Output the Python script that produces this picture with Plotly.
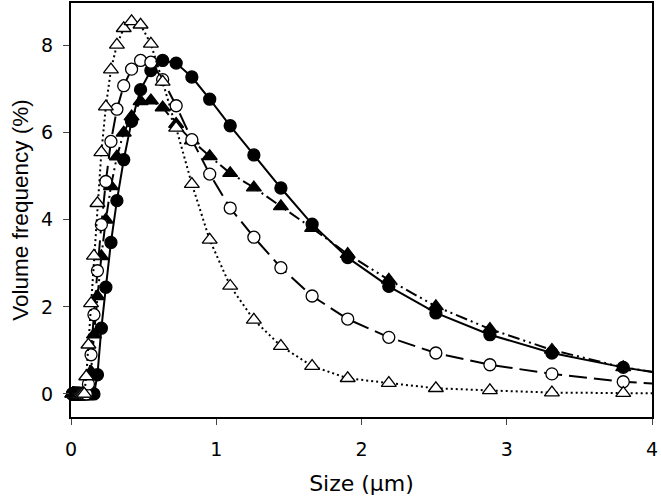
import plotly.graph_objects as go

# particle size grid (µm)
sizes = [0.01, 0.0115, 0.0132, 0.0151, 0.0174, 0.02, 0.0229, 0.0263, 0.0302, 0.0347,
         0.0398, 0.0457, 0.0525, 0.0603, 0.0692, 0.0794, 0.0912, 0.105, 0.120, 0.138,
         0.158, 0.182, 0.209, 0.240, 0.275, 0.316, 0.363, 0.417, 0.479, 0.550,
         0.631, 0.724, 0.832, 0.955, 1.096, 1.259, 1.445, 1.660, 1.905, 2.188,
         2.512, 2.884, 3.311, 3.802, 4.365]

filled_circle = [0]*21 + [0.44, 1.51, 2.45, 3.48, 4.44, 5.38, 6.26, 6.99, 7.43,
                          7.66, 7.60, 7.28, 6.77, 6.16, 5.49, 4.73, 3.90, 3.13, 2.47,
                          1.86, 1.36, 0.94, 0.61, 0.31]
filled_triangle = [0]*18 + [0.05, 0.51, 1.36, 2.24, 3.16, 4.00, 4.77, 5.45, 6.00, 6.37,
                            6.72, 6.74, 6.58, 6.20, 5.82, 5.46, 5.07, 4.74, 4.31, 3.81,
                            3.21, 2.62, 2.01, 1.49, 1.01, 0.61, 0.33]
open_circle = [0]*18 + [0.23, 0.90, 1.82, 2.83, 3.89, 4.88, 5.80, 6.54, 7.08, 7.46,
                        7.66, 7.62, 7.22, 6.62, 5.84, 5.05, 4.27, 3.60, 2.90, 2.25,
                        1.72, 1.30, 0.94, 0.67, 0.46, 0.28, 0.17]
open_triangle = [0]*17 + [0.40, 1.13, 2.08, 3.17, 4.38, 5.55, 6.60, 7.45, 8.02, 8.40,
                          8.56, 8.48, 8.04, 7.17, 6.11, 4.82, 3.54, 2.48, 1.70, 1.10,
                          0.64, 0.36, 0.25, 0.13, 0.08, 0.03, 0.02, 0.0]

x_ticks = [0, 1, 2, 3, 4]
y_ticks = [0, 2, 4, 6, 8]

series = [
    (filled_circle, "circle", "black", "solid"),
    (filled_triangle, "triangle-up", "black", "12px,4px,2px,4px,2px,4px"),
    (open_circle, "circle", "white", "18px,7px"),
    (open_triangle, "triangle-up", "white", "2px,3px"),
]

fig = go.Figure()
for vals, sym, fill, dash in series:
    fig.add_trace(go.Scatter(x=sizes, y=vals, mode="lines",
                             line=dict(color="black", width=2, dash=dash),
                             showlegend=False, hoverinfo="skip"))
    xs = [s for s in sizes if s <= 4]
    ys = [v for s, v in zip(sizes, vals) if s <= 4]
    fig.add_trace(go.Scatter(x=xs, y=ys, mode="markers", cliponaxis=False,
                             marker=dict(symbol=sym, size=12 if sym == "circle" else 13,
                                         color=fill, line=dict(color="black", width=1.3)),
                             showlegend=False))

wide = "DejaVu Sans, Verdana, sans-serif"
narrow = "Liberation Sans, Arial, sans-serif"
fig.update_layout(
    width=661, height=500,
    margin=dict(l=71, r=9, t=3, b=83),
    paper_bgcolor="white", plot_bgcolor="white",
    font=dict(family=wide, color="black", size=19),
)
fig.update_xaxes(range=[0, 4], tickvals=x_ticks, ticks="outside", ticklen=6, tickwidth=1,
                 showline=True, linewidth=2, linecolor="black", mirror=True,
                 showgrid=False, zeroline=False, automargin=False,
                 tickfont=dict(family=wide, size=19), ticklabelstandoff=8,
                 title=dict(text="Size (µm)", font=dict(family=wide, size=22), standoff=17))
fig.update_yaxes(range=[-0.53, 8.98], tickvals=y_ticks, ticks="outside", ticklen=6, tickwidth=1,
                 showline=True, linewidth=2, linecolor="black", mirror=True,
                 showgrid=False, zeroline=False, automargin=False,
                 tickfont=dict(family=wide, size=19), ticklabelstandoff=6,
                 title=dict(text="Volume frequency (%)", font=dict(family=narrow, size=22.5),
                            standoff=6))
fig.write_html("out.html", config={"displayModeBar": False},
               post_script="document.body.style.margin='0';")
